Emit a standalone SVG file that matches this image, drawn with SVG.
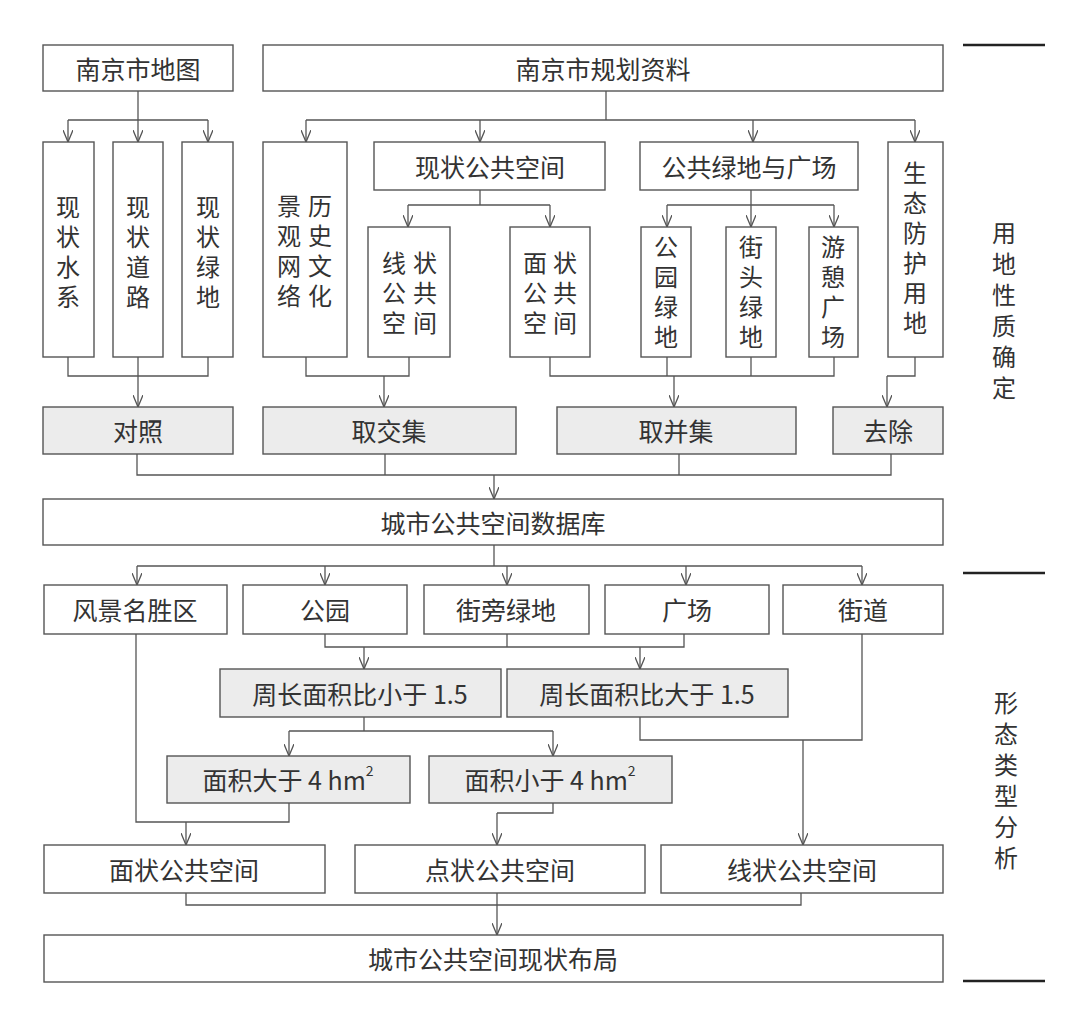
<svg xmlns="http://www.w3.org/2000/svg" width="1080" height="1029" viewBox="0 0 1080 1029">
<style>
.b{fill:#fff;stroke:#555;stroke-width:1.4}
.g{fill:#ececec;stroke:#555;stroke-width:1.4}
text{font-family:"Noto Sans CJK SC","Noto Sans",sans-serif;font-size:25px;fill:#333;text-anchor:middle;dominant-baseline:central}
.v{writing-mode:vertical-rl;font-size:24px;letter-spacing:6px}
.v7{writing-mode:vertical-rl;font-size:24px;letter-spacing:7px}
.c path,.c line,.c polyline{fill:none;stroke:#555;stroke-width:1.3}
.a{marker-end:url(#ar)}
.rule{stroke:#222;stroke-width:2.5}
</style>
<defs>
<marker id="ar" markerUnits="userSpaceOnUse" viewBox="0 0 12 10" refX="12" refY="5" markerWidth="12" markerHeight="10" orient="auto">
<path d="M0,0 L12,5 L0,10" fill="none" stroke="#555" stroke-width="1.3"/>
</marker>
</defs>
<rect width="1080" height="1029" fill="#fff"/>
<g id="n1"><rect class="b" x="43" y="45" width="190" height="46"/><text x="138" y="68">南京市地图</text></g>
<g id="n2"><rect class="b" x="263" y="45" width="680" height="46"/><text x="603" y="68">南京市规划资料</text></g>
<g id="n3"><rect class="b" x="43" y="142" width="51" height="215"/><text class="v" x="68" y="255">现状水系</text></g>
<g id="n4"><rect class="b" x="113" y="142" width="50" height="215"/><text class="v" x="138" y="255">现状道路</text></g>
<g id="n5"><rect class="b" x="182" y="142" width="51" height="215"/><text class="v" x="208" y="255">现状绿地</text></g>
<g id="n6"><rect class="b" x="263" y="142" width="84" height="215"/><text class="v" x="289" y="254">景观网络</text><text class="v" x="320" y="254">历史文化</text></g>
<g id="n7"><rect class="b" x="374" y="142" width="231" height="48"/><text x="490" y="166">现状公共空间</text></g>
<g id="n8"><rect class="b" x="368" y="227" width="82" height="130"/><text class="v" x="394" y="296">线公空</text><text class="v" x="425" y="296">状共间</text></g>
<g id="n9"><rect class="b" x="510" y="227" width="80" height="130"/><text class="v" x="535" y="296">面公空</text><text class="v" x="565" y="296">状共间</text></g>
<g id="n10"><rect class="b" x="640" y="142" width="218" height="48"/><text x="749" y="166">公共绿地与广场</text></g>
<g id="n11"><rect class="b" x="641" y="227" width="50" height="130"/><text class="v" x="666" y="295">公园绿地</text></g>
<g id="n12"><rect class="b" x="726" y="227" width="50" height="130"/><text class="v" x="751" y="295">街头绿地</text></g>
<g id="n13"><rect class="b" x="809" y="227" width="49" height="130"/><text class="v" x="833" y="295">游憩广场</text></g>
<g id="n14"><rect class="b" x="888" y="142" width="55" height="215"/><text class="v" x="915" y="251">生态防护用地</text></g>
<g id="n15"><rect class="g" x="43" y="407" width="190" height="47"/><text x="138" y="430">对照</text></g>
<g id="n16"><rect class="g" x="263" y="407" width="253" height="47"/><text x="389" y="430">取交集</text></g>
<g id="n17"><rect class="g" x="557" y="407" width="239" height="47"/><text x="676" y="430">取并集</text></g>
<g id="n18"><rect class="g" x="833" y="407" width="110" height="47"/><text x="888" y="430">去除</text></g>
<g id="n19"><rect class="b" x="43" y="499" width="900" height="46"/><text x="493" y="522">城市公共空间数据库</text></g>
<g id="n20"><rect class="b" x="44" y="585" width="183" height="49"/><text x="135" y="609">风景名胜区</text></g>
<g id="n21"><rect class="b" x="243" y="585" width="164" height="49"/><text x="325" y="609">公园</text></g>
<g id="n22"><rect class="b" x="424" y="585" width="165" height="49"/><text x="506" y="609">街旁绿地</text></g>
<g id="n23"><rect class="b" x="605" y="585" width="164" height="49"/><text x="687" y="609">广场</text></g>
<g id="n24"><rect class="b" x="783" y="585" width="160" height="49"/><text x="863" y="609">街道</text></g>
<g id="n25"><rect class="g" x="220" y="669" width="281" height="48"/><text x="360" y="693">周长面积比小于 1.5</text></g>
<g id="n26"><rect class="g" x="507" y="669" width="281" height="48"/><text x="647" y="693">周长面积比大于 1.5</text></g>
<g id="n27"><rect class="g" x="167" y="756" width="243" height="47"/><text x="288" y="779">面积大于 4 hm<tspan font-size="14" dy="-9">2</tspan></text></g>
<g id="n28"><rect class="g" x="429" y="756" width="243" height="47"/><text x="550" y="779">面积小于 4 hm<tspan font-size="14" dy="-9">2</tspan></text></g>
<g id="n29"><rect class="b" x="44" y="845" width="281" height="48"/><text x="184" y="869">面状公共空间</text></g>
<g id="n30"><rect class="b" x="355" y="845" width="290" height="48"/><text x="500" y="869">点状公共空间</text></g>
<g id="n31"><rect class="b" x="661" y="845" width="282" height="48"/><text x="802" y="869">线状公共空间</text></g>
<g id="n32"><rect class="b" x="44" y="935" width="899" height="47"/><text x="493" y="958">城市公共空间现状布局</text></g>
<g id="side">
<line class="rule" x1="963" y1="45" x2="1045" y2="45"/>
<line class="rule" x1="963" y1="573" x2="1045" y2="573"/>
<line class="rule" x1="963" y1="981" x2="1045" y2="981"/>
<text class="v7" x="1004" y="314">用地性质确定</text>
<text class="v7" x="1006" y="784">形态类型分析</text>
</g>
<g id="connectors" class="c">
<line x1="138" y1="91" x2="138" y2="120"/>
<line x1="68" y1="120" x2="208" y2="120"/>
<line class="a" x1="68" y1="120" x2="68" y2="142"/>
<line class="a" x1="138" y1="120" x2="138" y2="142"/>
<line class="a" x1="208" y1="120" x2="208" y2="142"/>
<line x1="606" y1="91" x2="606" y2="120"/>
<line x1="306" y1="120" x2="915" y2="120"/>
<line class="a" x1="306" y1="120" x2="306" y2="142"/>
<line class="a" x1="480" y1="120" x2="480" y2="142"/>
<line class="a" x1="753" y1="120" x2="753" y2="142"/>
<line class="a" x1="915" y1="120" x2="915" y2="142"/>
<line x1="480" y1="190" x2="480" y2="205"/>
<line x1="408" y1="205" x2="550" y2="205"/>
<line class="a" x1="408" y1="205" x2="408" y2="227"/>
<line class="a" x1="550" y1="205" x2="550" y2="227"/>
<line x1="751" y1="190" x2="751" y2="205"/>
<line x1="667" y1="205" x2="834" y2="205"/>
<line class="a" x1="667" y1="205" x2="667" y2="227"/>
<line class="a" x1="751" y1="205" x2="751" y2="227"/>
<line class="a" x1="834" y1="205" x2="834" y2="227"/>
<polyline points="68,357 68,376 208,376 208,357"/>
<line x1="138" y1="357" x2="138" y2="376"/>
<line class="a" x1="138" y1="376" x2="138" y2="407"/>
<polyline points="306,357 306,376 409,376 409,357"/>
<line class="a" x1="384" y1="376" x2="384" y2="407"/>
<polyline points="550,357 550,376 834,376 834,357"/>
<line x1="667" y1="357" x2="667" y2="376"/>
<line x1="751" y1="357" x2="751" y2="376"/>
<line class="a" x1="674" y1="376" x2="674" y2="407"/>
<polyline points="915,357 915,376 887,376"/>
<line class="a" x1="887" y1="376" x2="887" y2="407"/>
<polyline points="137,454 137,475 891,475 891,454"/>
<line x1="385" y1="454" x2="385" y2="475"/>
<line x1="679" y1="454" x2="679" y2="475"/>
<line class="a" x1="494" y1="475" x2="494" y2="499"/>
<line x1="494" y1="545" x2="494" y2="566"/>
<line x1="137" y1="566" x2="862" y2="566"/>
<line class="a" x1="137" y1="566" x2="137" y2="585"/>
<line class="a" x1="325" y1="566" x2="325" y2="585"/>
<line class="a" x1="507" y1="566" x2="507" y2="585"/>
<line class="a" x1="686" y1="566" x2="686" y2="585"/>
<line class="a" x1="862" y1="566" x2="862" y2="585"/>
<polyline points="325,634 325,647 684,647 684,634"/>
<line x1="507" y1="634" x2="507" y2="647"/>
<line class="a" x1="364" y1="647" x2="364" y2="669"/>
<line class="a" x1="640" y1="647" x2="640" y2="669"/>
<line x1="364" y1="717" x2="364" y2="731"/>
<line x1="289" y1="731" x2="553" y2="731"/>
<line class="a" x1="289" y1="731" x2="289" y2="756"/>
<line class="a" x1="553" y1="731" x2="553" y2="756"/>
<polyline points="640,717 640,740 862,740 862,634"/>
<line class="a" x1="803" y1="740" x2="803" y2="845"/>
<polyline points="136,634 136,822 289,822 289,803"/>
<line class="a" x1="186" y1="822" x2="186" y2="845"/>
<polyline points="553,803 553,813 497,813"/>
<line class="a" x1="497" y1="813" x2="497" y2="845"/>
<polyline points="186,893 186,905 801,905 801,893"/>
<line class="a" x1="497" y1="893" x2="497" y2="935"/>
</g>
</svg>
